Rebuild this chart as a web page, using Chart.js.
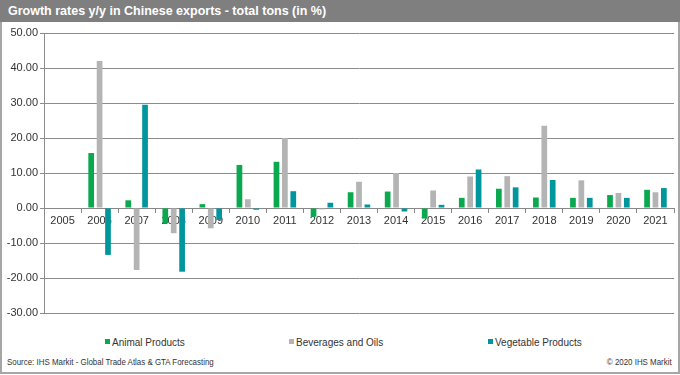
<!DOCTYPE html>
<html>
<head>
<meta charset="utf-8">
<script src="https://cdn.jsdelivr.net/npm/chart.js@4.4.0/dist/chart.umd.min.js"></script>
<style>
  body { margin: 0; background: #fff; font-family: "Liberation Sans", Arial, sans-serif; }
  #frame { position: relative; width: 680px; height: 374px; box-sizing: border-box; border: 2px solid #a6a6a6; border-top: none; }
  #title { position: absolute; left: -2px; top: 0; width: 680px; height: 22px; background: #7f7f7f; color: #fff;
    font-weight: bold; font-size: 12.5px; line-height: 23px; padding-left: 8px; box-sizing: border-box; }
  #box { position: absolute; left: -2px; top: 22px; width: 680px; height: 300px; }
  #legend { position: absolute; top: 337px; left: 0; font-size: 10px; color: #333; }
  #legend span { position: absolute; white-space: nowrap; }
  #legend i { display: inline-block; width: 5px; height: 5px; margin-right: 2px; vertical-align: 2px; }
  .foot { position: absolute; top: 357px; font-size: 9px; color: #333; white-space: nowrap; transform: scaleX(0.88); }
</style>
</head>
<body>
<div id="frame">
  <div id="title">Growth rates y/y in Chinese exports - total tons (in %)</div>
  <div id="box"><canvas id="chart"></canvas></div>
  <div id="legend"></div>
  <div class="foot" style="left:5px; transform-origin: left center">Source: IHS Markit - Global Trade Atlas &amp; GTA Forecasting</div>
  <div class="foot" style="right:6px; transform-origin: right center">© 2020 IHS Markit</div>
</div>
<script>
// 資料
var years = ["2005", "2006", "2007", "2008", "2009", "2010", "2011", "2012", "2013",
  "2014", "2015", "2016", "2017", "2018", "2019", "2020", "2021"];
var animal = [null, 15.7, 2.2, -4.4, 1.1, 12.3, 13.2, -2.5, 4.5, 4.7, -3.0, 2.9, 5.5, 3.0, 2.9, 3.7, 5.2];
var beverages = [null, 42.0, -17.7, -7.2, -5.8, 2.5, 20.0, -0.4, 7.5, 10.0, 5.0, 9.0, 9.1, 23.5, 7.9, 4.3, 4.5];
var vegetable = [null, -13.4, 29.5, -18.2, -3.4, -0.5, 4.8, 1.5, 1.0, -1.0, 0.9, 11.0, 5.9, 8.0, 2.9, 2.9, 5.7];
var yTicks = [50, 40, 30, 20, 10, 0, -10, -20, -30];

var names = ["Animal Products", "Beverages and Oils", "Vegetable Products"];
var colors = ["#0aa84f", "#b4b4b4", "#00969d"];

new Chart(document.getElementById("chart").getContext("2d"), {
  type: "bar",
  data: {
    labels: years,
    datasets: [
      { label: names[0], data: animal, backgroundColor: colors[0] },
      { label: names[1], data: beverages, backgroundColor: colors[1] },
      { label: names[2], data: vegetable, backgroundColor: colors[2] },
    ],
  },
  options: {
    responsive: true,
    maintainAspectRatio: false,
    animation: false,
    layout: { padding: { left: 0, right: 6, top: 11, bottom: 9 } },
    datasets: { bar: { categoryPercentage: 0.68, barPercentage: 0.68 } },
    plugins: { legend: { display: false }, tooltip: { enabled: false } },
    scales: {
      x: {
        position: { y: 0 },
        grid: { drawOnChartArea: false, color: "#888", tickLength: 4, offset: true },
        border: { color: "#888" },
        ticks: { color: "#333", font: { size: 11, family: "Liberation Sans" }, padding: 2, maxRotation: 0, autoSkip: false },
      },
      y: {
        min: -30,
        max: 50,
        afterFit: function (s) { s.width = 44; },
        afterBuildTicks: function (s) { s.ticks = yTicks.map(function (v) { return { value: v }; }); },
        grid: { color: "#8c8c8c", drawTicks: true, tickLength: 4 },
        border: { color: "#8c8c8c" },
        ticks: {
          color: "#333",
          font: { size: 11, family: "Liberation Sans" },
          padding: 2,
          callback: function (v) { return v.toFixed(2); },
        },
      },
    },
  },
});

// 圖例
var lg = document.getElementById("legend");
var lefts = [103, 287, 486];
names.forEach(function (n, i) {
  var s = document.createElement("span");
  s.style.left = lefts[i] + "px";
  s.innerHTML = '<i style="background:' + colors[i] + '"></i>' + n;
  lg.appendChild(s);
});
</script>
</body>
</html>
